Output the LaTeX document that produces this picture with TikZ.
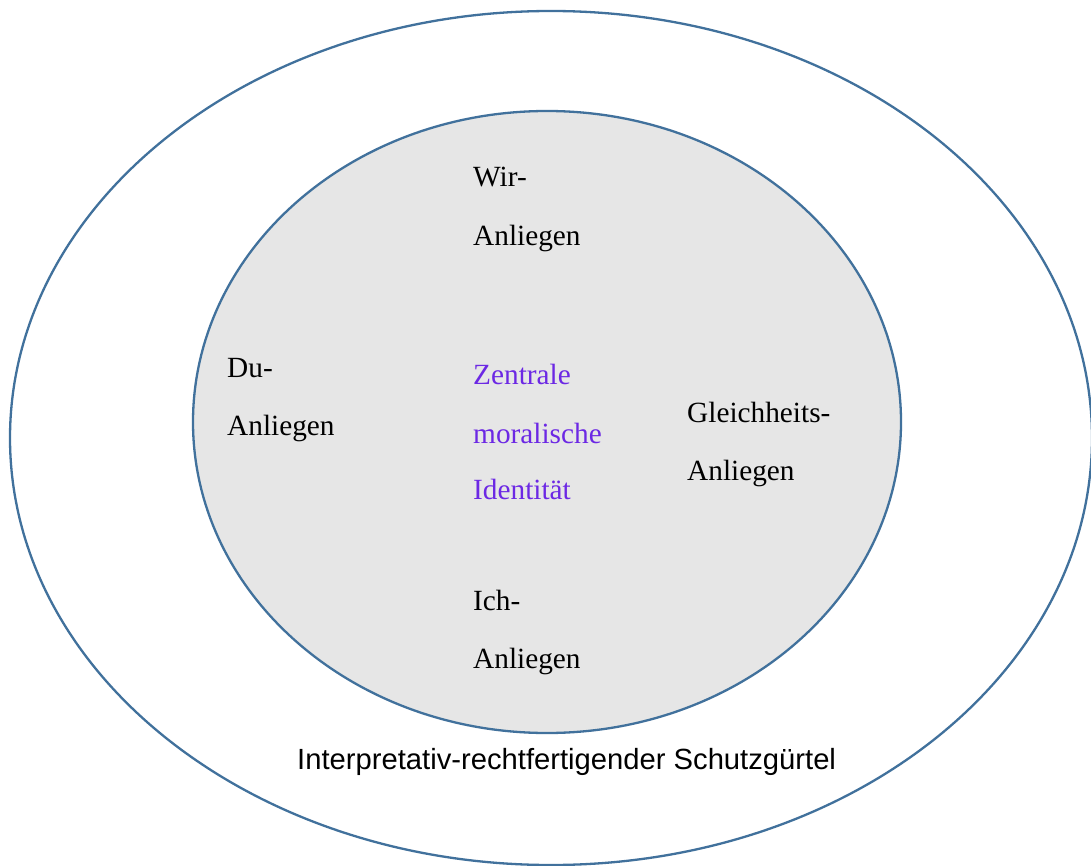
\documentclass[tikz,border=0pt]{standalone}
\usepackage{fontspec}
\setmainfont{Liberation Serif}
\newfontfamily\sansarial{Liberation Sans}
\definecolor{ringblue}{RGB}{65,113,156}
\definecolor{coregray}{RGB}{230,230,230}
\definecolor{corepurple}{RGB}{108,40,228}
\begin{document}
\begin{tikzpicture}[x=1pt,y=-1pt,
  ring/.style={draw=ringblue,line width=2.3pt},
  lbl/.style={anchor=base west,inner sep=0pt,font=\fontsize{29.3}{58}\selectfont},
  corelbl/.style={lbl,text=corepurple},
  beltlbl/.style={anchor=base west,inner sep=0pt,font=\sansarial\fontsize{29.2}{35}\selectfont}]
\useasboundingbox (0,0) rectangle (1091,866);
\draw[ring,fill=white] (551,438) ellipse [x radius=541,y radius=427];
\draw[ring,fill=coregray] (547,422) ellipse [x radius=354,y radius=311];
% labels
\node[lbl] (wir1) at (473,187) {Wir-};
\node[lbl] (wir2) at (473,246) {Anliegen};
\node[lbl] (du1) at (227,377) {Du-};
\node[lbl] (du2) at (227,435) {Anliegen};
\node[corelbl] (z1) at (473,384) {Zentrale};
\node[corelbl] (z2) at (473,443) {moralische};
\node[corelbl] (z3) at (473,499) {Identität};
\node[lbl] (gl1) at (687,422) {Gleichheits-};
\node[lbl] (gl2) at (687,480) {Anliegen};
\node[lbl] (ich1) at (473,610) {Ich-};
\node[lbl] (ich2) at (473,668) {Anliegen};
\node[beltlbl] (belt) at (297,769) {Interpretativ-rechtfertigender Schutzgürtel};
\end{tikzpicture}
\end{document}
